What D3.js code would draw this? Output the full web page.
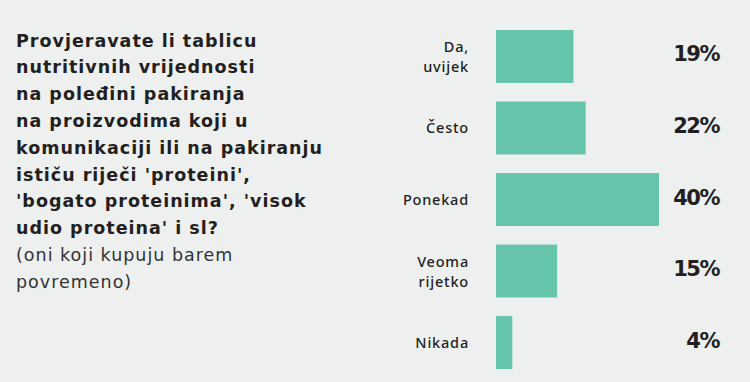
<!DOCTYPE html>
<html>
<head>
<meta charset="utf-8">
<script src="https://cdn.jsdelivr.net/npm/d3@7"></script>
<style>
  body { margin: 0; background: #edf0ef; }
  svg { display: block; }
</style>
</head>
<body>
<div id="chart"></div>
<script>
// survey answers and shares (%)
var categories = [["Da,", "uvijek"], ["Često"], ["Ponekad"], ["Veoma", "rijetko"], ["Nikada"]];
var values = [19, 22, 40, 15, 4];
var valueLabels = ["19%", "22%", "40%", "15%", "4%"];

var titleLines = ["Provjeravate li tablicu", "nutritivnih vrijednosti", "na poleđini pakiranja",
  "na proizvodima koji u", "komunikaciji ili na pakiranju", "ističu riječi 'proteini',",
  "'bogato proteinima', 'visok", "udio proteina' i sl?"];
var subLines = ["(oni koji kupuju barem", "povremeno)"];

var width = 750, height = 382;

var svg = d3.select("#chart").append("svg")
  .attr("width", width)
  .attr("height", height);

svg.append("rect")
  .attr("width", width)
  .attr("height", height)
  .attr("fill", "#edf0ef");

// question text on the left
var title = svg.append("text")
  .attr("x", 16)
  .attr("y", 46.5)
  .attr("font-family", "'DejaVu Sans', sans-serif")
  .attr("font-size", 17.5)
  .attr("letter-spacing", 1)
  .attr("fill", "#231f20");

title.selectAll("tspan.t")
  .data(titleLines)
  .enter().append("tspan")
  .attr("class", "t")
  .attr("x", 16)
  .attr("dy", function(d, i) { return i == 0 ? 0 : 26.8; })
  .attr("font-weight", "bold")
  .text(function(d) { return d; });

title.selectAll("tspan.s")
  .data(subLines)
  .enter().append("tspan")
  .attr("class", "s")
  .attr("x", 16)
  .attr("dy", 26.8)
  .attr("fill", "#333")
  .text(function(d) { return d; });

// bars
var x = d3.scaleLinear()
  .domain([0, 40])
  .range([496, 659]);

var y = d3.scaleBand()
  .domain(d3.range(values.length))
  .range([30, 369])
  .paddingInner(0.26)
  .paddingOuter(0);

svg.append("g")
  .selectAll("rect")
  .data(values)
  .enter().append("rect")
  .attr("x", x(0))
  .attr("y", function(d, i) { return y(i); })
  .attr("width", function(d) { return x(d) - x(0); })
  .attr("height", y.bandwidth())
  .attr("fill", "#66c4ac");

// category labels, one text per line
var catG = svg.append("g")
  .attr("font-family", "'Noto Sans', sans-serif")
  .attr("font-size", 14.5)
  .attr("font-weight", 500)
  .attr("letter-spacing", 0.8)
  .attr("fill", "#231f20")
  .attr("text-anchor", "end");

categories.forEach(function(lines, i) {
  var mid = y(i) + y.bandwidth() / 2;
  catG.selectAll("text.c" + i)
    .data(lines)
    .enter().append("text")
    .attr("class", "c" + i)
    .attr("x", 469)
    .attr("y", function(t, j) { return mid + 5.5 - (lines.length - 1) * 10 + j * 20; })
    .text(function(t) { return t; });
});

// value labels
svg.append("g")
  .selectAll("text")
  .data(valueLabels)
  .enter().append("text")
  .attr("x", 719)
  .attr("y", function(d, i) { return y(i) + y.bandwidth() / 2 + 5; })
  .attr("text-anchor", "end")
  .attr("font-family", "'DejaVu Sans', sans-serif")
  .attr("font-weight", "bold")
  .attr("font-size", 21)
  .attr("letter-spacing", -1.5)
  .attr("fill", "#231f20")
  .text(function(d) { return d; });
</script>
</body>
</html>
